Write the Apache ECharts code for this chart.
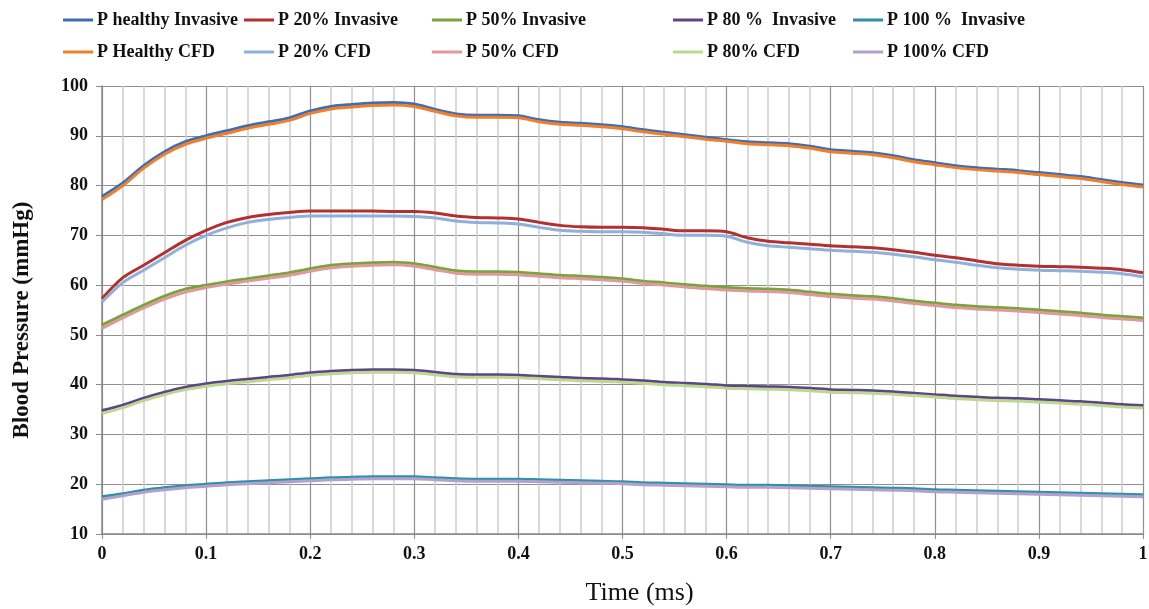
<!DOCTYPE html>
<html>
<head>
<meta charset="utf-8">
<script src="https://cdn.jsdelivr.net/npm/echarts@6/dist/echarts.min.js"></script>
<style>
  html, body { margin: 0; padding: 0; background: #fff; }
  #chart { width: 1149px; height: 609px; }
</style>
</head>
<body>
<div id="chart"></div>
<script>
const timeMs = [0, 0.02, 0.04, 0.06, 0.08, 0.1, 0.12, 0.14, 0.16, 0.18, 0.2, 0.22, 0.24, 0.26, 0.28, 0.3, 0.32, 0.34, 0.36, 0.38, 0.4, 0.42, 0.44, 0.46, 0.48, 0.5, 0.52, 0.54, 0.56, 0.58, 0.6, 0.62, 0.64, 0.66, 0.68, 0.7, 0.72, 0.74, 0.76, 0.78, 0.8, 0.82, 0.84, 0.86, 0.88, 0.9, 0.92, 0.94, 0.96, 0.98, 1];

const healthyInvasive = [77.8, 80.5, 84.0, 86.8, 88.8, 90.0, 91.0, 92.0, 92.8, 93.6, 95.0, 95.9, 96.3, 96.6, 96.7, 96.4, 95.3, 94.4, 94.1, 94.1, 94.0, 93.2, 92.7, 92.5, 92.2, 91.8, 91.2, 90.7, 90.2, 89.7, 89.2, 88.8, 88.6, 88.4, 87.9, 87.2, 86.9, 86.6, 86.0, 85.2, 84.6, 84.0, 83.6, 83.3, 83.0, 82.6, 82.2, 81.8, 81.2, 80.6, 80.1];
const p20Invasive = [57.3, 61.5, 64.0, 66.5, 69.0, 71.0, 72.6, 73.6, 74.2, 74.6, 74.9, 74.9, 74.9, 74.9, 74.8, 74.8, 74.5, 73.9, 73.6, 73.5, 73.3, 72.6, 72.0, 71.7, 71.6, 71.6, 71.5, 71.2, 70.9, 70.9, 70.7, 69.5, 68.8, 68.5, 68.2, 67.9, 67.7, 67.5, 67.1, 66.6, 66.0, 65.5, 64.9, 64.3, 64.0, 63.8, 63.7, 63.6, 63.4, 63.1, 62.5];
const p50Invasive = [52.0, 54.0, 56.0, 57.8, 59.2, 60.0, 60.7, 61.3, 61.9, 62.5, 63.3, 64.0, 64.3, 64.5, 64.6, 64.3, 63.6, 62.9, 62.7, 62.7, 62.6, 62.3, 62.0, 61.8, 61.6, 61.3, 60.8, 60.5, 60.1, 59.8, 59.5, 59.3, 59.2, 59.0, 58.6, 58.2, 57.9, 57.7, 57.3, 56.8, 56.4, 56.0, 55.7, 55.5, 55.3, 55.0, 54.7, 54.4, 54.0, 53.7, 53.4];
const p80Invasive = [34.8, 35.9, 37.3, 38.5, 39.5, 40.2, 40.7, 41.1, 41.5, 41.9, 42.4, 42.7, 42.9, 43.0, 43.0, 42.9, 42.5, 42.1, 42.0, 42.0, 41.9, 41.7, 41.5, 41.3, 41.2, 41.0, 40.8, 40.5, 40.3, 40.1, 39.8, 39.7, 39.6, 39.5, 39.3, 39.0, 38.9, 38.8, 38.6, 38.3, 38.0, 37.7, 37.5, 37.3, 37.2, 37.0, 36.8, 36.6, 36.3, 36.0, 35.8];
const p100Invasive = [17.5, 18.1, 18.8, 19.3, 19.7, 20.0, 20.3, 20.5, 20.7, 20.9, 21.1, 21.3, 21.4, 21.5, 21.5, 21.5, 21.3, 21.1, 21.0, 21.0, 21.0, 20.9, 20.8, 20.7, 20.6, 20.5, 20.3, 20.2, 20.1, 20.0, 19.9, 19.8, 19.8, 19.7, 19.6, 19.5, 19.4, 19.3, 19.2, 19.1, 18.9, 18.8, 18.7, 18.6, 18.5, 18.4, 18.3, 18.2, 18.1, 18.0, 17.9];

const healthyCfd = [77.2, 80.0, 83.5, 86.3, 88.3, 89.5, 90.5, 91.5, 92.3, 93.1, 94.5, 95.4, 95.8, 96.1, 96.2, 95.9, 94.9, 94.0, 93.7, 93.7, 93.6, 92.8, 92.3, 92.1, 91.8, 91.4, 90.8, 90.3, 89.8, 89.3, 88.9, 88.4, 88.2, 88.0, 87.5, 86.8, 86.5, 86.2, 85.6, 84.8, 84.2, 83.6, 83.2, 82.9, 82.6, 82.2, 81.8, 81.4, 80.8, 80.2, 79.7];
const p20Cfd = [56.6, 60.5, 63.0, 65.5, 68.0, 70.0, 71.5, 72.6, 73.2, 73.6, 73.9, 73.9, 73.9, 73.9, 73.9, 73.8, 73.5, 72.9, 72.6, 72.5, 72.3, 71.6, 71.0, 70.8, 70.7, 70.7, 70.6, 70.3, 70.0, 70.0, 69.8, 68.6, 67.9, 67.6, 67.3, 67.0, 66.8, 66.6, 66.2, 65.7, 65.1, 64.6, 64.0, 63.5, 63.2, 63.0, 62.9, 62.8, 62.6, 62.3, 61.7];
const p50Cfd = [51.3, 53.4, 55.4, 57.2, 58.6, 59.5, 60.2, 60.8, 61.4, 62.0, 62.8, 63.5, 63.8, 64.0, 64.1, 63.8, 63.1, 62.4, 62.2, 62.2, 62.1, 61.8, 61.5, 61.3, 61.1, 60.8, 60.3, 60.0, 59.6, 59.3, 59.0, 58.8, 58.7, 58.5, 58.1, 57.7, 57.4, 57.2, 56.8, 56.3, 55.9, 55.5, 55.2, 55.0, 54.8, 54.5, 54.2, 53.9, 53.5, 53.2, 52.9];
const p80Cfd = [34.2, 35.4, 36.8, 38.0, 39.0, 39.7, 40.2, 40.6, 41.0, 41.4, 41.9, 42.2, 42.4, 42.5, 42.5, 42.4, 42.0, 41.6, 41.5, 41.5, 41.4, 41.2, 41.0, 40.8, 40.7, 40.5, 40.3, 40.0, 39.8, 39.6, 39.3, 39.2, 39.1, 39.0, 38.8, 38.5, 38.4, 38.3, 38.1, 37.8, 37.5, 37.2, 37.0, 36.8, 36.7, 36.5, 36.3, 36.1, 35.8, 35.5, 35.3];
const p100Cfd = [17.0, 17.7, 18.4, 18.9, 19.3, 19.6, 19.9, 20.1, 20.3, 20.5, 20.7, 20.9, 21.0, 21.1, 21.1, 21.1, 20.9, 20.7, 20.6, 20.6, 20.6, 20.5, 20.4, 20.3, 20.2, 20.1, 19.9, 19.8, 19.7, 19.6, 19.5, 19.4, 19.4, 19.3, 19.2, 19.1, 19.0, 18.9, 18.8, 18.7, 18.5, 18.4, 18.3, 18.2, 18.1, 18.0, 17.9, 17.8, 17.7, 17.6, 17.5];

const seriesNames = [
  'P healthy Invasive', 'P 20% Invasive', 'P 50% Invasive', 'P 80 %  Invasive', 'P 100 %  Invasive',
  'P Healthy CFD', 'P 20% CFD', 'P 50% CFD', 'P 80% CFD', 'P 100% CFD',
];
const seriesValues = [
  healthyInvasive, p20Invasive, p50Invasive, p80Invasive, p100Invasive,
  healthyCfd, p20Cfd, p50Cfd, p80Cfd, p100Cfd,
];
const seriesColors = [
  '#3f6db3', '#b3312d', '#77a43b', '#5e4585', '#2e90aa',
  '#ee7f2d', '#8fb0dc', '#e0999a', '#bcd88f', '#b4a0cc',
];

const serif = '"Liberation Serif", "DejaVu Serif", serif';
// legend columns, one legend per column so rows line up like the original
const legendLefts = [63, 244, 432, 673, 853];

const chart = echarts.init(document.getElementById('chart'), null, {renderer: 'canvas'});

chart.setOption({
  animation: false,
  backgroundColor: '#fff',
  legend: legendLefts.map((left, i) => ({
    orient: 'vertical',
    left: left,
    top: 11,
    padding: 0,
    itemWidth: 30,
    itemHeight: 16,
    itemGap: 14,
    itemStyle: {borderWidth: 0},
    data: [seriesNames[i], seriesNames[i + 5]].map(name => ({name: name, icon: 'path://M0,6.5L30,6.5L30,9.5L0,9.5Z'})),
    textStyle: {fontFamily: serif, fontWeight: 'bold', fontSize: 18, color: '#111', padding: [0, 0, 0, -1]},
  })),
  grid: {left: 102, right: 6, top: 86, bottom: 75, outerBoundsMode: 'none'},
  xAxis: {
    type: 'value',
    min: 0,
    max: 1,
    interval: 0.1,
    name: 'Time (ms)',
    nameLocation: 'middle',
    nameGap: 46,
    nameTextStyle: {fontFamily: serif, fontSize: 26, color: '#111', padding: [0, 0, 0, 34]},
    axisLine: {lineStyle: {color: '#8a8a8a', width: 1.5}},
    axisTick: {show: true, length: 5, lineStyle: {color: '#8a8a8a'}},
    axisLabel: {fontFamily: serif, fontWeight: 'bold', fontSize: 18, color: '#111', margin: 11},
    splitLine: {show: true, lineStyle: {color: '#8f8f8f', width: 1.2}},
    minorTick: {show: false, splitNumber: 5},
    minorSplitLine: {show: true, lineStyle: {color: '#cdcdcd', width: 1.5}},
  },
  yAxis: {
    type: 'value',
    min: 10,
    max: 100,
    interval: 10,
    name: 'Blood Pressure (mmHg)',
    nameLocation: 'middle',
    nameGap: 68,
    nameTextStyle: {fontFamily: serif, fontWeight: 'bold', fontSize: 23, color: '#111', padding: [0, 20, 0, 0]},
    axisLine: {show: true, lineStyle: {color: '#8a8a8a', width: 1.5}},
    axisTick: {show: true, length: 6, lineStyle: {color: '#8a8a8a'}},
    axisLabel: {fontFamily: serif, fontWeight: 'bold', fontSize: 18, color: '#111', margin: 14},
    splitLine: {show: true, lineStyle: {color: '#8f8f8f', width: 1.2}},
  },
  series: seriesNames.map((name, i) => ({
    name: name,
    type: 'line',
    data: timeMs.map((t, j) => [t, seriesValues[i][j]]),
    symbol: 'none',
    smooth: 0.3,
    color: seriesColors[i],
    lineStyle: {width: 3, color: seriesColors[i]},
  })),
});
</script>
</body>
</html>
